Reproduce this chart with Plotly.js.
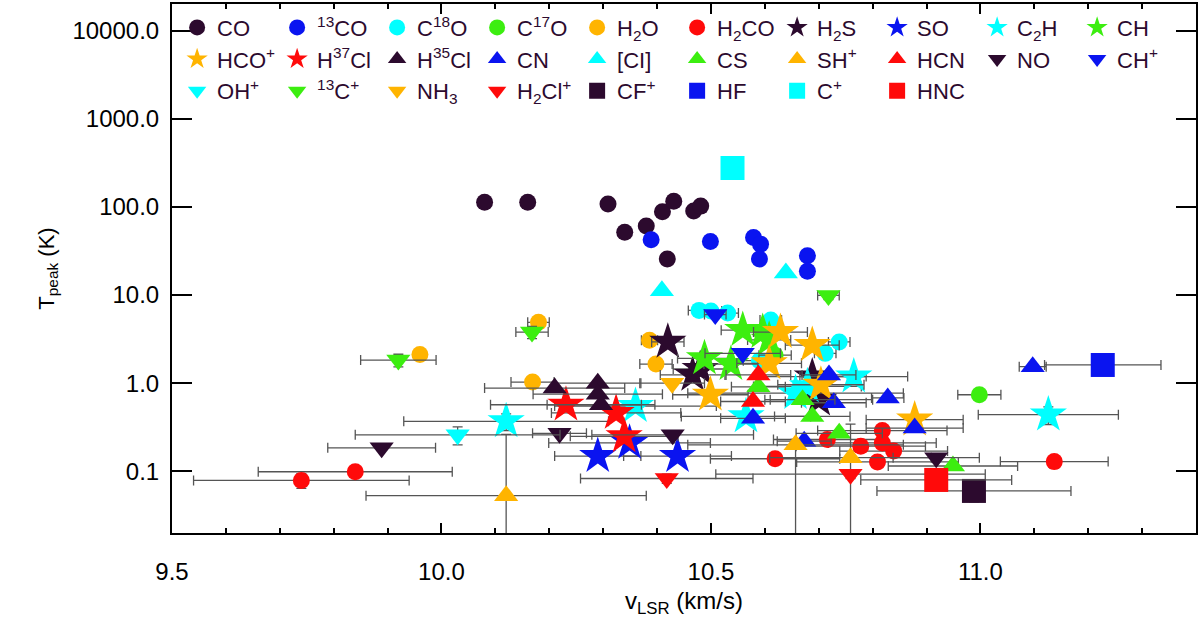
<!DOCTYPE html>
<html>
<head>
<meta charset="utf-8">
<script src="https://cdn.plot.ly/plotly-3.0.1.min.js"></script>
<style>
  body { margin: 0; background: #fff; }
  #plot { width: 1200px; height: 620px; }
</style>
</head>
<body>
<div id="plot"></div>
<script>
// v_LSR (km/s), T_peak (K), and errors
var CO_v = [10.080, 10.160, 10.309, 10.340, 10.380, 10.410, 10.431, 10.419, 10.468, 10.481];
var CO_T = [113, 113, 108, 51.6, 60.8, 88, 116, 25.6, 89.7, 102];

var C13O_v = [10.389, 10.499, 10.579, 10.592, 10.590, 10.679, 10.679];
var C13O_T = [42.3, 40.4, 44.9, 37.8, 25.6, 27.9, 18.6];

var C18O_v = [10.478, 10.500, 10.531, 10.611, 10.738, 10.712, 10.590];
var C18O_T = [6.7, 6.6, 6.25, 5.2, 2.94, 2.18, 1.8];
var C18O_dv = [0.02, 0.02, 0.02, 0.02, 0.02, 0.02, 0.03];

var C17O_v = [10.619, 10.998];
var C17O_T = [2.08, 0.74];
var C17O_dv = [0.03, 0.04];

var H2O_v = [9.960, 10.180, 10.169, 10.386, 10.398];
var H2O_T = [2.12, 4.9, 1.03, 3.07, 1.65];
var H2O_dv = [0.01, 0.02, 0.04, 0.015, 0.03];

var H2CO_v = [9.740, 9.840, 10.619, 10.716, 10.778, 10.818, 10.839, 10.809, 10.818, 11.137];
var H2CO_T = [0.079, 0.099, 0.139, 0.23, 0.193, 0.29, 0.17, 0.128, 0.21, 0.129];
var H2CO_dv = [0.2, 0.18, 0.12, 0.1, 0.12, 0.12, 0.1, 0.15, 0.1, 0.1];
var H2CO_dT = [0.015, 0.01, 0.01, 0.02, 0.02, 0.03, 0.02, 0.015, 0.02, 0.02];

var H2S_v = [10.420, 10.466, 10.480, 10.688, 10.700];
var H2S_T = [2.94, 1.24, 1.45, 1.19, 0.65];
var H2S_dv = [0.03, 0.06, 0.05, 0.1, 0.1];

var SO_v = [10.290, 10.349, 10.438];
var SO_T = [0.149, 0.21, 0.149];
var SO_dv = [0.08, 0.15, 0.1];

var C2H_v = [10.120, 10.360, 10.565, 10.657, 10.679, 10.765, 11.126];
var C2H_T = [0.37, 0.55, 0.42, 0.77, 0.92, 1.19, 0.44];
var C2H_dv = [0.19, 0.15, 0.12, 0.2, 0.1, 0.1, 0.13];
var C2H_dT = [0.08, 0.05, 0.05, 0.05, 0.05, 0.1, 0.1];

var CH_v = [10.488, 10.537, 10.559, 10.596, 10.608];
var CH_T = [1.91, 1.65, 4.0, 3.8, 3.1];
var CH_dv = [0.05, 0.05, 0.04, 0.04, 0.04];

var HCOp_v = [10.499, 10.608, 10.629, 10.688, 10.704, 10.878];
var HCOp_T = [0.74, 1.68, 3.8, 2.7, 0.96, 0.386];
var HCOp_dv = [0.07, 0.06, 0.05, 0.05, 0.08, 0.09];

var H37Cl_v = [10.231, 10.324, 10.339];
var H37Cl_T = [0.57, 0.46, 0.25];
var H37Cl_dv = [0.14, 0.12, 0.1];

var H35Cl_v = [10.210, 10.290, 10.296, 10.290];
var H35Cl_T = [0.88, 1.0, 0.57, 0.75];
var H35Cl_dv = [0.13, 0.08, 0.1, 0.12];

var CN_v = [10.578, 10.673, 10.719, 10.728, 10.828, 10.878, 11.097];
var CN_T = [0.40, 0.22, 1.24, 0.60, 0.68, 0.31, 1.54];
var CN_dv = [0.06, 0.05, 0.05, 0.06, 0.03, 0.09, 0.025];

var CI_v = [10.409, 10.639];
var CI_T = [11.2, 17.8];

var CS_v = [10.588, 10.670, 10.688, 10.738, 10.949];
var CS_T = [0.91, 0.65, 0.42, 0.27, 0.115];
var CS_dv = [0.05, 0.06, 0.07, 0.08, 0.12];

var SHp_v = [10.120, 10.657, 10.759];
var SHp_T = [0.053, 0.20, 0.143];
var SHp_dv = [0.26, 0.2, 0.15];
var SHp_dT = [0.21, 0.03, 0.2];
var SHp_dTlow = [0.2, 0.25, 0.2];

var HCN_v = [10.588, 10.578];
var HCN_T = [1.24, 0.62];
var HCN_dv = [0.06, 0.06];

var NO_v = [9.889, 10.219, 10.429, 10.918];
var NO_T = [0.185, 0.27, 0.26, 0.143];
var NO_dv = [0.1, 0.05, 0.15, 0.08];

var CHp_v = [10.508, 10.559];
var CHp_T = [6.0, 2.18];
var CHp_dv = [0.02, 0.07];

var OHp_v = [10.030];
var OHp_T = [0.26];
var OHp_dv = [0.19];
var OHp_dT = [0.06];

var C13p_v = [9.920, 10.168, 10.718];
var C13p_T = [1.83, 3.8, 9.9];
var C13p_dv = [0.07, 0.03, 0.02];
var C13p_dT = [0.3, 0.6, 1.0];

var NH3_v = [10.428];
var NH3_T = [1.0];
var NH3_dv = [0.06];

var H2Clp_v = [10.418, 10.759];
var H2Clp_T = [0.083, 0.093];
var H2Clp_dv = [0.16, 0.25];
var H2Clp_dT = [0.01, 0.01];

var CFp_v = [10.988];
var CFp_T = [0.060];
var CFp_dv = [0.18];
var CFp_dT = [0.015];

var HF_v = [11.227];
var HF_T = [1.61];
var HF_dv = [0.108];

var Cp_v = [10.540];
var Cp_T = [276];

var HNC_v = [10.918];
var HNC_T = [0.080];
var HNC_dv = [0.14];

var yTicks = [0.1, 1, 10, 100, 1000, 10000];
var yTickText = ['0.1', '1.0', '10.0', '100.0', '1000.0', '10000.0'];

var dark = '#2c0a2e', blue = '#0a14f0', cyan = '#00ffff', green = '#3cee10', orange = '#ffb400', red = '#ff0a0a';

// name, v, T, dv, dT, dT lower, symbol, colour, size
var series = [
	['CO', CO_v, CO_T, null, null, null, 'circle', dark, 17],
	['<sup>13</sup>CO', C13O_v, C13O_T, null, null, null, 'circle', blue, 17],
	['C<sup>18</sup>O', C18O_v, C18O_T, C18O_dv, null, null, 'circle', cyan, 17],
	['C<sup>17</sup>O', C17O_v, C17O_T, C17O_dv, null, null, 'circle', green, 17],
	['H<sub>2</sub>O', H2O_v, H2O_T, H2O_dv, null, null, 'circle', orange, 17],
	['H<sub>2</sub>CO', H2CO_v, H2CO_T, H2CO_dv, H2CO_dT, null, 'circle', red, 17],
	['H<sub>2</sub>S', H2S_v, H2S_T, H2S_dv, null, null, 'star', dark, 28],
	['SO', SO_v, SO_T, SO_dv, null, null, 'star', blue, 28],
	['C<sub>2</sub>H', C2H_v, C2H_T, C2H_dv, C2H_dT, null, 'star', cyan, 28],
	['CH', CH_v, CH_T, CH_dv, null, null, 'star', green, 28],
	['HCO<sup>+</sup>', HCOp_v, HCOp_T, HCOp_dv, null, null, 'star', orange, 28],
	['H<sup>37</sup>Cl', H37Cl_v, H37Cl_T, H37Cl_dv, null, null, 'star', red, 28],
	['H<sup>35</sup>Cl', H35Cl_v, H35Cl_T, H35Cl_dv, null, null, 'triangle-up', dark, 21],
	['CN', CN_v, CN_T, CN_dv, null, null, 'triangle-up', blue, 21],
	['[CI]', CI_v, CI_T, null, null, null, 'triangle-up', cyan, 21],
	['CS', CS_v, CS_T, CS_dv, null, null, 'triangle-up', green, 21],
	['SH<sup>+</sup>', SHp_v, SHp_T, SHp_dv, SHp_dT, SHp_dTlow, 'triangle-up', orange, 21],
	['HCN', HCN_v, HCN_T, HCN_dv, null, null, 'triangle-up', red, 21],
	['NO', NO_v, NO_T, NO_dv, null, null, 'triangle-down', dark, 21],
	['CH<sup>+</sup>', CHp_v, CHp_T, CHp_dv, null, null, 'triangle-down', blue, 21],
	['OH<sup>+</sup>', OHp_v, OHp_T, OHp_dv, OHp_dT, null, 'triangle-down', cyan, 21],
	['<sup>13</sup>C<sup>+</sup>', C13p_v, C13p_T, C13p_dv, C13p_dT, null, 'triangle-down', green, 21],
	['NH<sub>3</sub>', NH3_v, NH3_T, NH3_dv, null, null, 'triangle-down', orange, 21],
	['H<sub>2</sub>Cl<sup>+</sup>', H2Clp_v, H2Clp_T, H2Clp_dv, H2Clp_dT, null, 'triangle-down', red, 21],
	['CF<sup>+</sup>', CFp_v, CFp_T, CFp_dv, CFp_dT, null, 'square', dark, 24],
	['HF', HF_v, HF_T, HF_dv, null, null, 'square', blue, 24],
	['C<sup>+</sup>', Cp_v, Cp_T, null, null, null, 'square', cyan, 24],
	['HNC', HNC_v, HNC_T, HNC_dv, null, null, 'square', red, 24]
];

function makeTrace(s) {
	var tr = {
		x: s[1], y: s[2], name: s[0], type: 'scatter', mode: 'markers',
		marker: {symbol: s[6], color: s[7], size: s[8], line: {width: 0}},
		cliponaxis: true
	};
	if (s[3]) {
		tr.error_x = {type: 'data', array: s[3], color: '#555555', thickness: 1.3, width: 5};
	}
	if (s[4]) {
		tr.error_y = {type: 'data', array: s[4], color: '#555555', thickness: 1.3, width: 5};
		if (s[5]) {
			tr.error_y.symmetric = false;
			tr.error_y.arrayminus = s[5];
		}
	}
	return tr;
}

var traces = series.map(makeTrace);

var font = 'Liberation Sans, Arial, sans-serif';

var layout = {
	width: 1200, height: 620,
	margin: {l: 172, r: 4, t: 4, b: 87},
	paper_bgcolor: '#fff', plot_bgcolor: '#fff',
	font: {family: font, color: '#000', size: 22},
	showlegend: true,
	legend: {
		orientation: 'h', x: 0.005, xanchor: 'left', y: 0.995, yanchor: 'top',
		bgcolor: 'rgba(0,0,0,0)', font: {family: font, size: 22, color: '#2c0a2e'},
		entrywidth: 55, itemwidth: 30, tracegroupgap: 0
	},
	xaxis: {
		range: [9.5, 11.4], tick0: 9.5, dtick: 0.5, tickformat: '.1f',
		ticks: 'inside', ticklen: 10, tickwidth: 2, tickcolor: '#000',
		minor: {dtick: 0.1, ticks: 'inside', ticklen: 5, tickwidth: 2, tickcolor: '#000'},
		showline: true, linewidth: 2, linecolor: '#000', mirror: 'ticks',
		showgrid: false, zeroline: false,
		tickfont: {family: font, size: 24}, ticklabelstandoff: 16,
		title: {text: 'v<sub>LSR</sub> (km/s)', font: {family: font, size: 24}, standoff: 8}
	},
	yaxis: {
		type: 'log', range: [Math.log10(0.02), Math.log10(20000)],
		tickvals: yTicks, ticktext: yTickText,
		ticks: 'inside', ticklen: 20, tickwidth: 2, tickcolor: '#000',
		showline: true, linewidth: 2, linecolor: '#000', mirror: 'ticks',
		showgrid: false, zeroline: false,
		tickfont: {family: font, size: 24}, ticklabelstandoff: 6,
		title: {text: 'T<sub>peak</sub> (K)', font: {family: font, size: 22}, standoff: 12}
	}
};

Plotly.newPlot('plot', traces, layout, {displayModeBar: false, staticPlot: true});
</script>
</body>
</html>
